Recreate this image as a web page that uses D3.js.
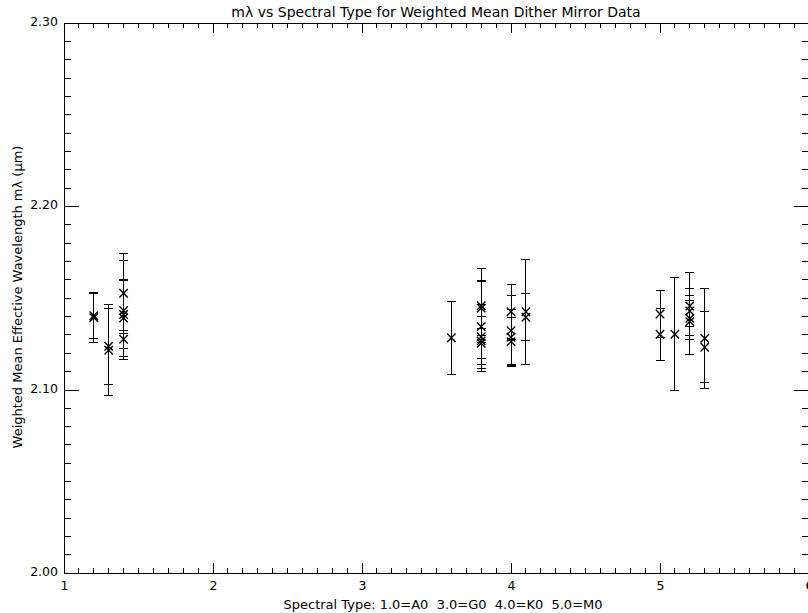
<!DOCTYPE html>
<html>
<head>
<meta charset="utf-8">
<script src="https://cdn.jsdelivr.net/npm/d3@7"></script>
<style>
  html, body { margin: 0; padding: 0; background: #fff; }
  svg { display: block; }
  text { font-family: "DejaVu Sans", sans-serif; fill: #000; }
</style>
</head>
<body>
<svg id="chart" width="808" height="613"></svg>
<script>
// ---- data ----
const spectralType = [
  1.2, 1.2,
  1.3, 1.3,
  1.4, 1.4, 1.4, 1.4, 1.4,
  3.6,
  3.8, 3.8, 3.8, 3.8, 3.8, 3.8,
  4.0, 4.0, 4.0, 4.0,
  4.1, 4.1,
  5.0, 5.0,
  5.1,
  5.2, 5.2, 5.2, 5.2,
  5.3, 5.3
];
const wavelength = [
  2.1403, 2.1393,
  2.1237, 2.1215,
  2.1526, 2.1432, 2.1391, 2.1410, 2.1275,
  2.1283,
  2.1458, 2.1445, 2.1344, 2.1289, 2.1266, 2.1253,
  2.1425, 2.1322, 2.1286, 2.1262,
  2.1425, 2.1395,
  2.1413, 2.1302,
  2.1302,
  2.1456, 2.1429, 2.1389, 2.1371,
  2.1280, 2.1231
];
const wavelengthErr = [
  0.0124, 0.0137,
  0.0207, 0.0247,
  0.0218, 0.0270, 0.0210, 0.0184, 0.0050,
  0.0199,
  0.0202, 0.0150, 0.0247, 0.0176, 0.0131, 0.0082,
  0.0150, 0.0190, 0.0149, 0.0133,
  0.0286, 0.0127,
  0.0129, 0.0142,
  0.0309,
  0.0184, 0.0087, 0.0096, 0.0180,
  0.0271, 0.0193
];
const xDomain = [1, 6];
const yDomain = [2.00, 2.30];
const xTickValues = [1, 2, 3, 4, 5, 6];
const yTickValues = [2.00, 2.10, 2.20, 2.30];
const titleText = "m\u03bb vs Spectral Type for Weighted Mean Dither Mirror Data";
const xLabelText = "Spectral Type: 1.0=A0  3.0=G0  4.0=K0  5.0=M0";
const yLabelText = "Weighted Mean Effective Wavelength m\u03bb (\u03bcm)";

// ---- layout ----
const pLeft = 64, pRight = 809, pTop = 23, pBottom = 573;
const svg = d3.select("#chart");
const x = d3.scaleLinear().domain(xDomain).range([pLeft, pRight]);
const y = d3.scaleLinear().domain(yDomain).range([pBottom, pTop]);

const xMinor = d3.range(10, 61).map(d => d / 10).filter(d => !xTickValues.some(t => Math.abs(t - d) < 1e-9));
const yMinor = d3.range(200, 231).map(d => d / 100).filter(d => !yTickValues.some(t => Math.abs(t - d) < 1e-9));

const axes = svg.append("g").attr("shape-rendering", "crispEdges");

// bottom axis
const xBottom = d3.axisBottom(x).tickValues(xTickValues).tickFormat(d3.format("d")).tickSize(-10).tickPadding(8);
const gB = axes.append("g").attr("transform", `translate(0,${pBottom})`).call(xBottom);
gB.append("g").selectAll("line").data(xMinor).join("line")
  .attr("x1", d => x(d)).attr("x2", d => x(d)).attr("y1", 0).attr("y2", -5);
// top axis
const xTop = d3.axisTop(x).tickValues(xTickValues).tickFormat("").tickSize(-10);
const gT = axes.append("g").attr("transform", `translate(0,${pTop})`).call(xTop);
gT.append("g").selectAll("line").data(xMinor).join("line")
  .attr("x1", d => x(d)).attr("x2", d => x(d)).attr("y1", 0).attr("y2", 5);
// left axis
const yLeft = d3.axisLeft(y).tickValues(yTickValues).tickFormat(d3.format(".2f")).tickSize(-15).tickPadding(6);
const gL = axes.append("g").attr("transform", `translate(${pLeft},0)`).call(yLeft);
gL.append("g").selectAll("line").data(yMinor).join("line")
  .attr("y1", d => y(d)).attr("y2", d => y(d)).attr("x1", 0).attr("x2", 7);
// right axis
const yRight = d3.axisRight(y).tickValues(yTickValues).tickFormat("").tickSize(-15);
const gR = axes.append("g").attr("transform", `translate(${pRight},0)`).call(yRight);
gR.append("g").selectAll("line").data(yMinor).join("line")
  .attr("y1", d => y(d)).attr("y2", d => y(d)).attr("x1", 0).attr("x2", -7);

axes.selectAll("path.domain").attr("stroke", "#000").attr("stroke-width", 1);
axes.selectAll("line").attr("stroke", "#000").attr("stroke-width", 1);
axes.selectAll(".tick text").attr("font-size", 12.5).attr("font-family", "DejaVu Sans, sans-serif").attr("fill", "#000");
gL.selectAll(".tick text").attr("dy", "0.2em");

// error bars and markers
const pts = spectralType.map((s, i) => ({ s, v: wavelength[i], e: wavelengthErr[i] }));
const capW = 4.5, mk = 4.2;
const g = svg.append("g").attr("stroke", "#000").attr("stroke-width", 1).attr("fill", "none");
const eb = g.selectAll("g.eb").data(pts).join("g").attr("class", "eb");
eb.append("line").attr("shape-rendering", "crispEdges")
  .attr("x1", d => x(d.s)).attr("x2", d => x(d.s))
  .attr("y1", d => y(d.v + d.e)).attr("y2", d => y(d.v - d.e));
eb.append("line").attr("shape-rendering", "crispEdges")
  .attr("x1", d => x(d.s) - capW).attr("x2", d => x(d.s) + capW)
  .attr("y1", d => y(d.v + d.e)).attr("y2", d => y(d.v + d.e));
eb.append("line").attr("shape-rendering", "crispEdges")
  .attr("x1", d => x(d.s) - capW).attr("x2", d => x(d.s) + capW)
  .attr("y1", d => y(d.v - d.e)).attr("y2", d => y(d.v - d.e));
eb.append("path")
  .attr("d", d => {
    const cx = x(d.s), cy = y(d.v);
    return `M${cx - mk},${cy - mk}L${cx + mk},${cy + mk}M${cx - mk},${cy + mk}L${cx + mk},${cy - mk}`;
  })
  .attr("stroke-width", 1.4);

// titles
svg.append("text").attr("x", 436).attr("y", 17)
  .attr("text-anchor", "middle").attr("font-size", 14).text(titleText);
svg.append("text").attr("x", 443).attr("y", 609)
  .attr("text-anchor", "middle").attr("font-size", 13)
  .style("white-space", "pre").text(xLabelText);
svg.append("text").attr("transform", `translate(22,297) rotate(-90)`)
  .attr("text-anchor", "middle").attr("font-size", 13).text(yLabelText);
</script>
</body>
</html>
